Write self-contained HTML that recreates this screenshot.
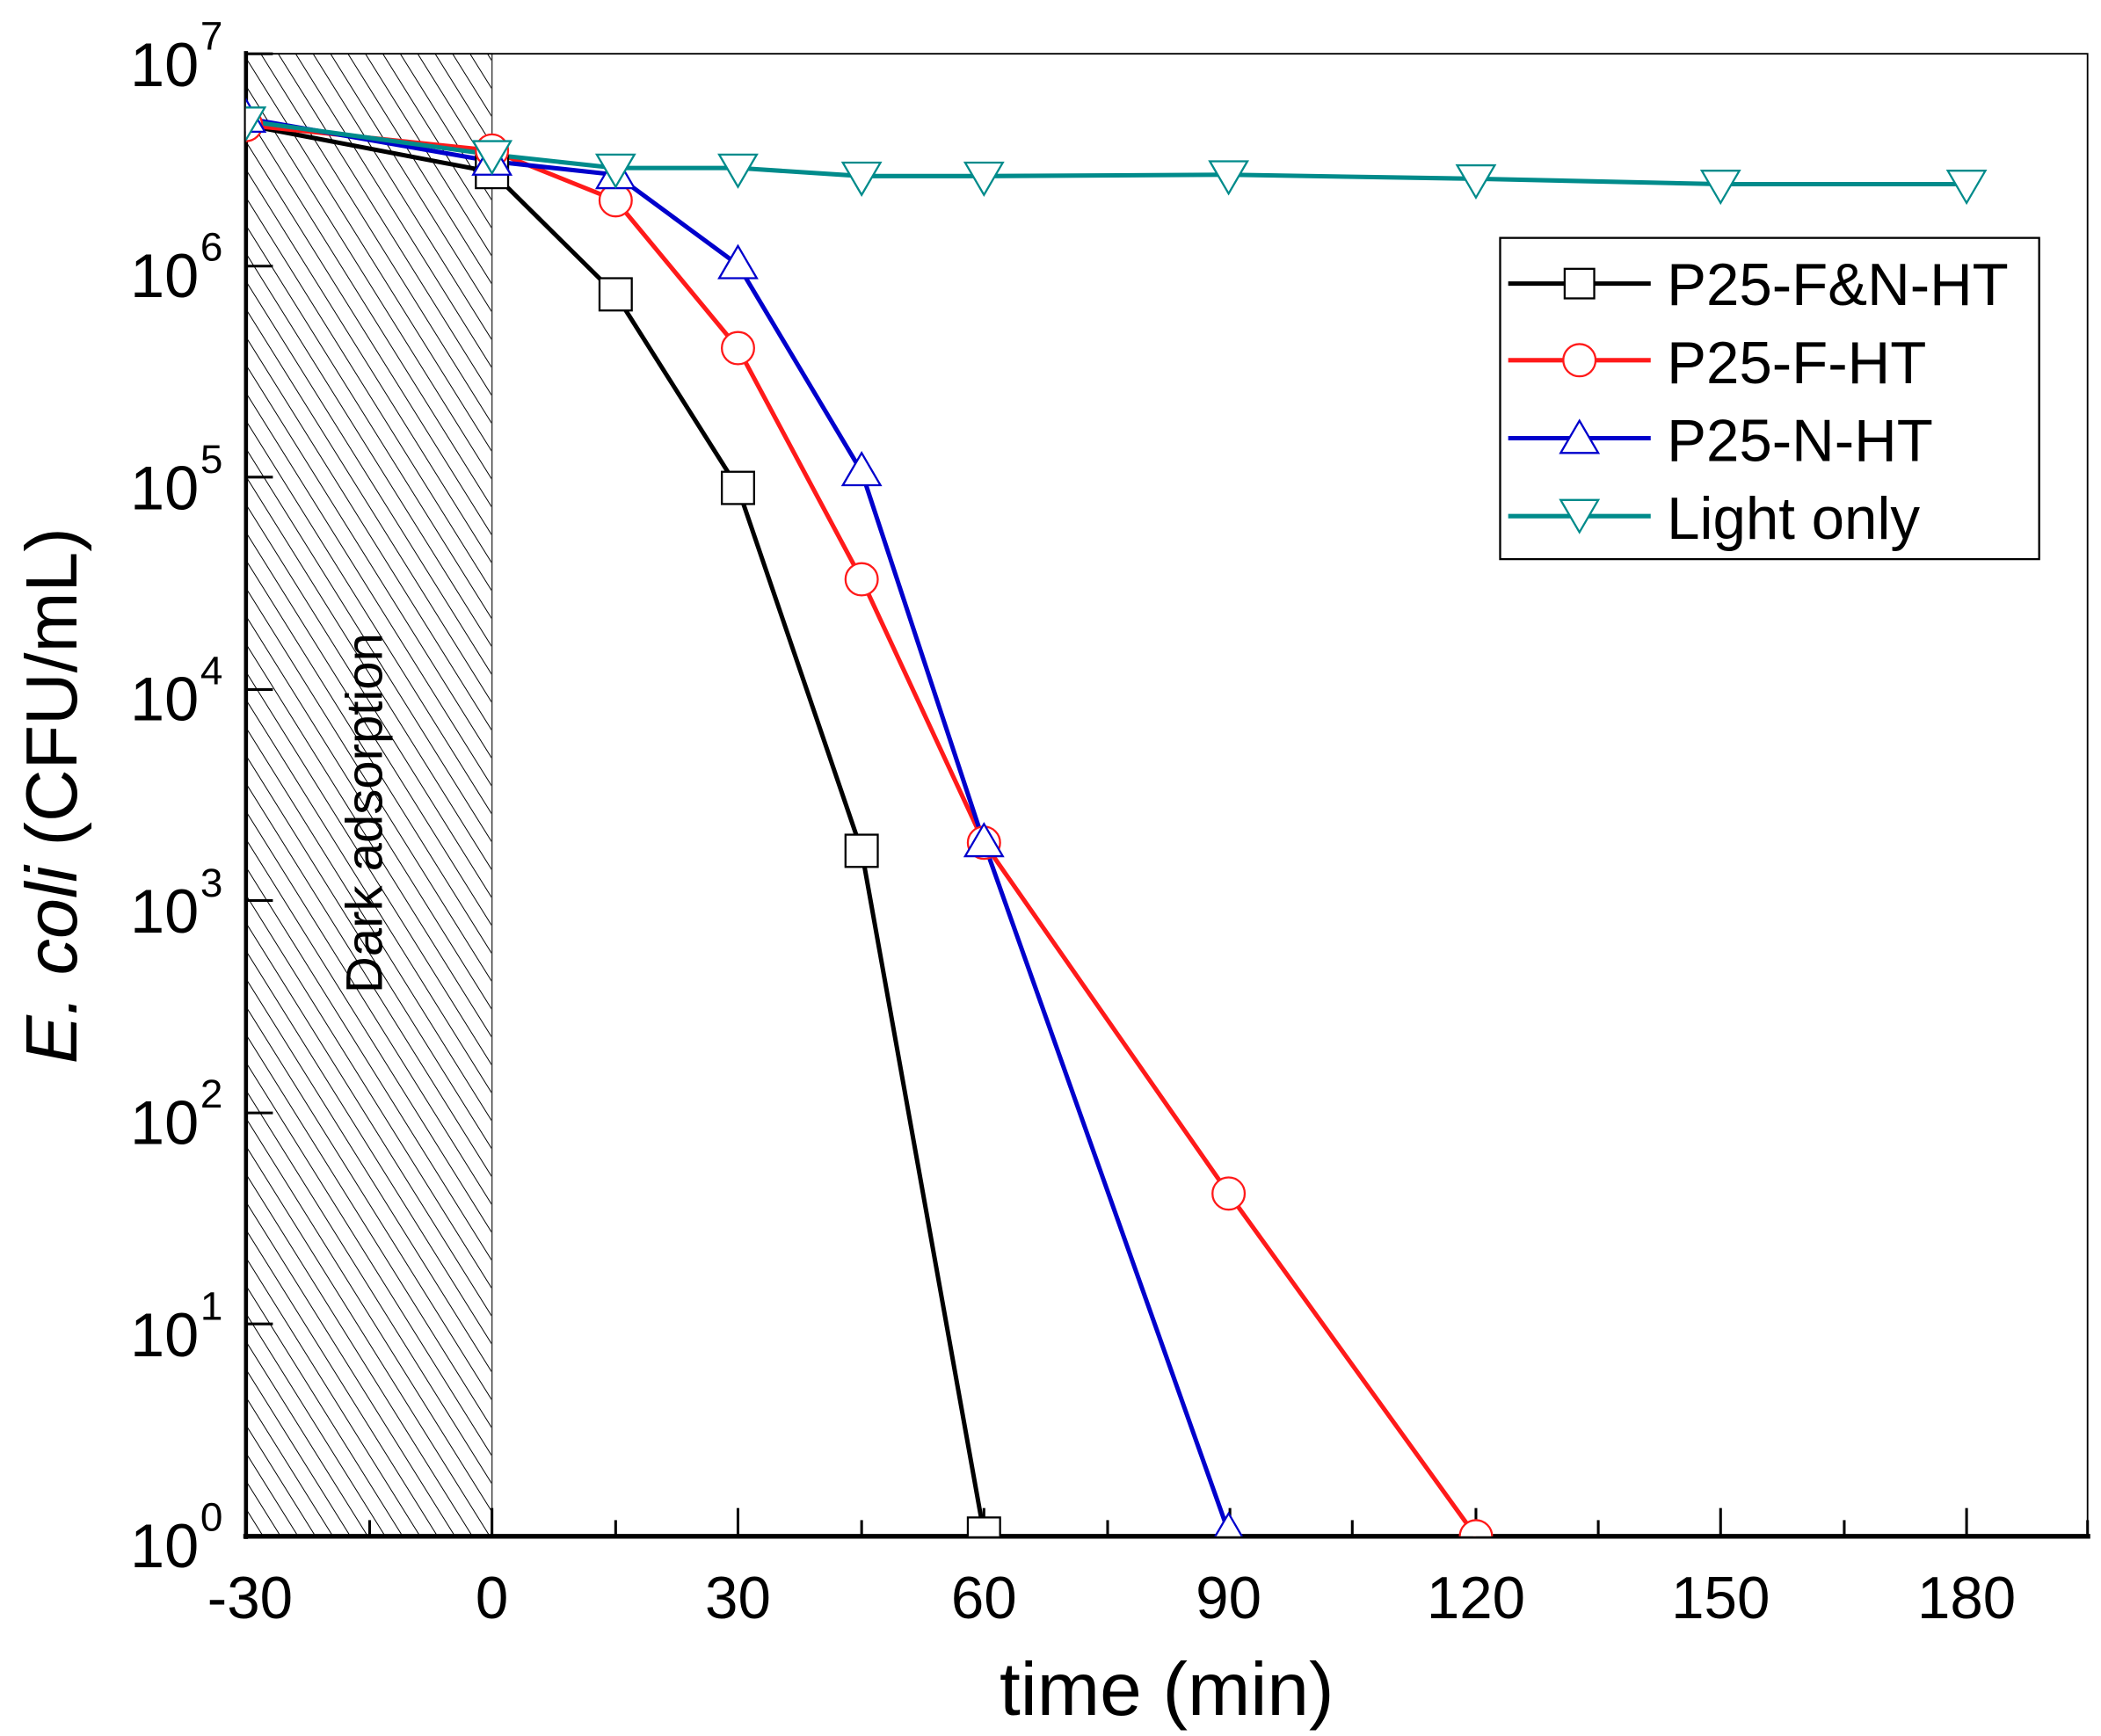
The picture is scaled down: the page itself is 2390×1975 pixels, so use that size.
<!DOCTYPE html>
<html><head><meta charset="utf-8"><style>
html,body{margin:0;padding:0;background:#fff;}
svg{display:block;}
text{font-family:"Liberation Sans",Arial,sans-serif;fill:#000;}
</style></head><body>
<svg width="2390" height="1975" viewBox="0 0 1563 1291.6" preserveAspectRatio="none" xmlns="http://www.w3.org/2000/svg">
<defs>
<pattern id="h" patternUnits="userSpaceOnUse" width="11" height="11" patternTransform="rotate(-32)">
<line x1="0" y1="0" x2="0" y2="11" stroke="#000" stroke-width="1.3"/>
</pattern>
<clipPath id="c"><rect x="183" y="40" width="1370" height="1103"/></clipPath>
</defs>
<rect x="183" y="40" width="183" height="1103" fill="url(#h)" stroke="#444" stroke-width="1"/>
<rect x="183" y="40" width="1370" height="1103" fill="none" stroke="#000" stroke-width="1.2"/>
<line x1="183" y1="38" x2="183" y2="1145" stroke="#000" stroke-width="3"/>
<line x1="181" y1="1143" x2="1555" y2="1143" stroke="#000" stroke-width="3.5"/>
<g stroke="#000" stroke-width="2">
<line x1="183" y1="40" x2="203" y2="40"/><line x1="183" y1="198" x2="203" y2="198"/>
<line x1="183" y1="355" x2="203" y2="355"/><line x1="183" y1="513" x2="203" y2="513"/>
<line x1="183" y1="670" x2="203" y2="670"/><line x1="183" y1="828" x2="203" y2="828"/>
<line x1="183" y1="985" x2="203" y2="985"/>
<line x1="366" y1="1143" x2="366" y2="1122"/><line x1="549" y1="1143" x2="549" y2="1122"/>
<line x1="732" y1="1143" x2="732" y2="1122"/><line x1="915" y1="1143" x2="915" y2="1122"/>
<line x1="1098" y1="1143" x2="1098" y2="1122"/><line x1="1280" y1="1143" x2="1280" y2="1122"/>
<line x1="1463" y1="1143" x2="1463" y2="1122"/>
<line x1="275" y1="1143" x2="275" y2="1131"/><line x1="458" y1="1143" x2="458" y2="1131"/>
<line x1="641" y1="1143" x2="641" y2="1131"/><line x1="824" y1="1143" x2="824" y2="1131"/>
<line x1="1006" y1="1143" x2="1006" y2="1131"/><line x1="1189" y1="1143" x2="1189" y2="1131"/>
<line x1="1372" y1="1143" x2="1372" y2="1131"/><line x1="1553" y1="1143" x2="1553" y2="1131"/>
</g>
<g font-size="44" text-anchor="middle">
<text x="186" y="1204">-30</text><text x="366" y="1204">0</text><text x="549" y="1204">30</text>
<text x="732" y="1204">60</text><text x="914" y="1204">90</text><text x="1098" y="1204">120</text>
<text x="1280" y="1204">150</text><text x="1463" y="1204">180</text>
</g>
<g font-size="46" text-anchor="end">
<text x="148" y="64">10</text><text x="148" y="221">10</text><text x="148" y="379">10</text>
<text x="148" y="536">10</text><text x="148" y="694">10</text><text x="148" y="851">10</text>
<text x="148" y="1009">10</text><text x="148" y="1166">10</text>
</g>
<g font-size="30">
<text x="149" y="37">7</text><text x="149" y="194">6</text><text x="149" y="352">5</text>
<text x="149" y="509">4</text><text x="149" y="667">3</text><text x="149" y="824">2</text>
<text x="149" y="982">1</text><text x="149" y="1139">0</text>
</g>
<text x="868" y="1276" font-size="56" text-anchor="middle">time (min)</text>
<text transform="translate(57,592) rotate(-90)" font-size="54" text-anchor="middle"><tspan font-style="italic">E. coli</tspan> (CFU/mL)</text>
<text transform="translate(284,605) rotate(-90)" font-size="38" text-anchor="middle">Dark adsorption</text>
<g clip-path="url(#c)" fill="none" stroke-width="3.3">
<polyline stroke="#000" points="183,93 366,128 458,219 549,363 641,633 732,1141"/>
<polyline stroke="#ff1a1a" points="183,93 366,112 458,149 549,259 641,431 732,627 914,888 1098,1143"/>
<polyline stroke="#0000cc" points="183,88 366,120 458,130 549,197 641,351 732,627 914,1140"/>
<polyline stroke="#008b8b" points="183,90 366,115 458,125 549,125 641,131 732,131 914,130 1098,133 1280,137 1463,137"/>
<g stroke="#000" stroke-width="1.5" fill="#fff">
<rect x="354" y="116" width="24" height="24"/><rect x="446" y="207" width="24" height="24"/>
<rect x="537" y="351" width="24" height="24"/><rect x="629" y="621" width="24" height="24"/>
<rect x="720" y="1129" width="24" height="24"/>
</g>
<g stroke="#ff1a1a" stroke-width="1.5" fill="#fff">
<circle cx="183" cy="93" r="12"/><circle cx="366" cy="112" r="12"/><circle cx="458" cy="149" r="12"/>
<circle cx="549" cy="259" r="12"/><circle cx="641" cy="431" r="12"/><circle cx="732" cy="627" r="12"/>
<circle cx="914" cy="888" r="12"/><circle cx="1098" cy="1143" r="12"/>
</g>
<g stroke="#0000cc" stroke-width="1.5" fill="#fff">
<polygon points="183,74 197,98 169,98"/><polygon points="366,106 380,130 352,130"/>
<polygon points="458,116 472,140 444,140"/><polygon points="549,183 563,207 535,207"/>
<polygon points="641,337 655,361 627,361"/><polygon points="732,613 746,637 718,637"/>
<polygon points="914,1126 928,1150 900,1150"/>
</g>
<g stroke="#008b8b" stroke-width="1.5" fill="#fff">
<polygon points="169,80 197,80 183,104"/><polygon points="352,105 380,105 366,129"/>
<polygon points="444,115 472,115 458,139"/><polygon points="535,115 563,115 549,139"/>
<polygon points="627,121 655,121 641,145"/><polygon points="718,121 746,121 732,145"/>
<polygon points="900,120 928,120 914,144"/><polygon points="1084,123 1112,123 1098,147"/>
<polygon points="1266,127 1294,127 1280,151"/><polygon points="1449,127 1477,127 1463,151"/>
</g>
</g>
<rect x="1116" y="177" width="401" height="239" fill="#fff" stroke="#000" stroke-width="1.5"/>
<g stroke-width="3.3">
<line x1="1122" y1="211" x2="1228" y2="211" stroke="#000"/>
<line x1="1122" y1="268" x2="1228" y2="268" stroke="#ff1a1a"/>
<line x1="1122" y1="326" x2="1228" y2="326" stroke="#0000cc"/>
<line x1="1122" y1="384" x2="1228" y2="384" stroke="#008b8b"/>
</g>
<rect x="1164" y="200" width="22" height="22" fill="#fff" stroke="#000" stroke-width="1.5"/>
<circle cx="1175" cy="268" r="12" fill="#fff" stroke="#ff1a1a" stroke-width="1.5"/>
<polygon points="1175,313 1189,337 1161,337" fill="#fff" stroke="#0000cc" stroke-width="1.5"/>
<polygon points="1161,372 1189,372 1175,396" fill="#fff" stroke="#008b8b" stroke-width="1.5"/>
<g font-size="44">
<text x="1240" y="227">P25-F&amp;N-HT</text>
<text x="1240" y="285">P25-F-HT</text>
<text x="1240" y="343">P25-N-HT</text>
<text x="1240" y="401">Light only</text>
</g>
</svg>
</body></html>
